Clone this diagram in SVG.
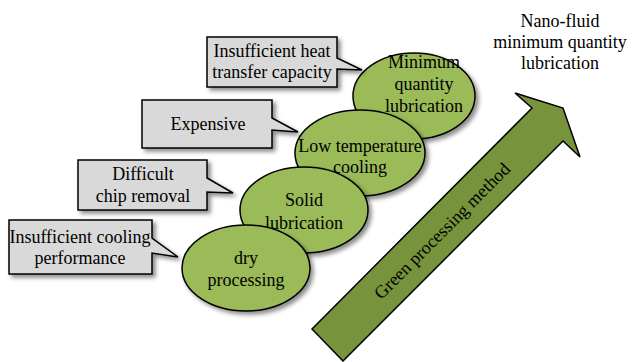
<svg xmlns="http://www.w3.org/2000/svg" width="632" height="362" viewBox="0 0 632 362">
<defs>
<filter id="sh" x="-20%" y="-20%" width="150%" height="150%">
<feDropShadow dx="3" dy="3" stdDeviation="2" flood-color="#000" flood-opacity="0.45"/>
</filter>
<style>
.t{font-family:"Liberation Serif","Times New Roman",serif;font-size:18px;fill:#000;text-anchor:middle}
.ell{fill:#9bbb59;stroke:#000;stroke-width:1.5;filter:url(#sh)}
.box{fill:#d9d9d9;stroke:#000;stroke-width:1.5;stroke-linejoin:miter;filter:url(#sh)}
.arr{fill:#77933c;stroke:#000;stroke-width:1.5;stroke-linejoin:miter}
</style>
</defs>
<rect width="632" height="362" fill="#fff"/>

<g id="arrow">
<polygon class="arr" points="312,329 532,108 515,93 563,108 580,157 563,141 343,361"/>
<text class="t" transform="translate(442,231) rotate(-45)" x="0" y="6">Green processing method</text>
</g>

<g id="nano">
<text class="t" x="560" y="27">Nano-fluid</text>
<text class="t" x="560" y="48">minimum quantity</text>
<text class="t" x="560" y="69">lubrication</text>
</g>

<g id="node-mql">
<ellipse class="ell" cx="414" cy="96" rx="61" ry="43"/>
<text class="t" x="424" y="68">Minimum</text>
<text class="t" x="424" y="90">quantity</text>
<text class="t" x="424" y="112">lubrication</text>
</g>
<g id="node-low">
<ellipse class="ell" cx="360" cy="153" rx="65" ry="43"/>
<text class="t" x="360" y="152">Low temperature</text>
<text class="t" x="360" y="173">cooling</text>
</g>
<g id="node-solid">
<ellipse class="ell" cx="304" cy="210" rx="64" ry="43"/>
<text class="t" x="304" y="206">Solid</text>
<text class="t" x="304" y="229">lubrication</text>
</g>
<g id="node-dry">
<ellipse class="ell" cx="246" cy="268" rx="64" ry="43"/>
<text class="t" x="246" y="264">dry</text>
<text class="t" x="246" y="286">processing</text>
</g>

<g id="callout-heat">
<path class="box" d="M207,37 H337 V58 L362,70 L337,69 V87 H207 Z"/>
<text class="t" x="272" y="57">Insufficient heat</text>
<text class="t" x="272" y="78">transfer capacity</text>
</g>
<g id="callout-expensive">
<path class="box" d="M142,100 H272 V118 L298,132 L272,130 V148 H142 Z"/>
<text class="t" x="208" y="130">Expensive</text>
</g>
<g id="callout-chip">
<path class="box" d="M78,160 H207 V178 L233,193 L207,192 V210 H78 Z"/>
<text class="t" x="143" y="180">Difficult</text>
<text class="t" x="143" y="202">chip removal</text>
</g>
<g id="callout-cooling">
<path class="box" d="M9,220 H152 V238 L178,257 L152,253 V274 H9 Z"/>
<text class="t" x="80" y="243">Insufficient cooling</text>
<text class="t" x="80" y="264">performance</text>
</g>
</svg>
